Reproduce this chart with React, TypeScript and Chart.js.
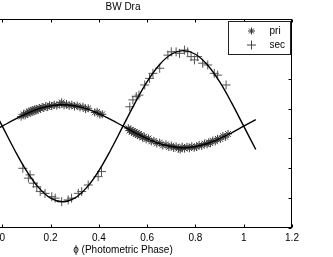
import { useEffect, useRef } from "react";
import { Chart, registerables } from "chart.js";

Chart.register(...registerables);

const TITLE = "BW Dra";
const X_LABEL = "ϕ (Photometric Phase)";
const Y_LABEL = "Radial Velocity (km/s)";
const SERIES_NAMES = ["pri", "sec"];
const X_TICKS = [-0.2, 0, 0.2, 0.4, 0.6, 0.8, 1, 1.2];
const Y_TICKS = [-400, -300, -200, -100, 0, 100, 200, 300];

const PRI_PHASE = [
  0.078, 0.088, 0.095, 0.102, 0.106, 0.111, 0.115, 0.119, 0.123, 0.127, 0.131, 0.135, 0.139, 0.143,
  0.148, 0.153, 0.158, 0.165, 0.172, 0.18, 0.188, 0.196, 0.205, 0.215, 0.226, 0.238, 0.246, 0.256,
  0.266, 0.277, 0.288, 0.299, 0.31, 0.322, 0.334, 0.345, 0.356, 0.383, 0.393, 0.404, 0.414,
  0.522, 0.527, 0.532, 0.536, 0.541, 0.545, 0.549, 0.553, 0.557, 0.561, 0.566, 0.57, 0.575, 0.581,
  0.588, 0.596, 0.606, 0.617, 0.628, 0.64, 0.652, 0.665, 0.678, 0.69, 0.7, 0.71, 0.72, 0.73, 0.737,
  0.745, 0.755, 0.765, 0.775, 0.785, 0.795, 0.805, 0.815, 0.826, 0.838, 0.848, 0.855, 0.862, 0.872,
  0.882, 0.892, 0.903, 0.914, 0.924, 0.935,
];
const PRI_RV = [
  -27, -19, -22, -13, -17, -10, -14, -7, -11, -5, -9, -2, -7, -1,
  -4, 2, -1, 5, 2, 8, 5, 11, 8, 13, 10, 14, 21, 11,
  15, 9, 13, 7, 10, 4, 6, -2, 1, -13, -11, -20, -19,
  -66, -74, -71, -78, -75, -82, -78, -85, -82, -89, -85, -92, -89, -97,
  -94, -103, -100, -110, -108, -117, -114, -124, -120, -129, -124, -132, -127, -134, -137,
  -128, -134, -128, -133, -126, -131, -129, -122, -125, -117, -120, -113, -116, -107,
  -110, -101, -102, -92, -95, -85,
];

const SEC_PHASE = [
  0.085, 0.108, 0.115, 0.129, 0.143, 0.157, 0.177, 0.205, 0.219, 0.246, 0.273, 0.287, 0.315, 0.329,
  0.356, 0.397, 0.411,
  0.528, 0.541, 0.555, 0.566, 0.59, 0.61, 0.624, 0.652, 0.686, 0.7, 0.72, 0.734, 0.755, 0.768,
  0.782, 0.796, 0.809, 0.83, 0.851, 0.878, 0.892, 0.927,
];
const SEC_RV = [
  -200, -233, -222, -250, -262, -278, -284, -295, -300, -312, -306, -300, -284, -278,
  -256, -228, -211,
  6, 29, 40, 45, 79, 101, 118, 135, 179, 190, 190, 185, 196, 190,
  174, 163, 174, 152, 146, 118, 112, 79,
];

const FIT_PHASE = [
  -0.05, 0, 0.05, 0.1, 0.15, 0.2, 0.25, 0.3, 0.35, 0.4, 0.45, 0.5,
  0.55, 0.6, 0.65, 0.7, 0.75, 0.8, 0.85, 0.9, 0.95, 1, 1.05,
];
const PRI_FIT = [
  -81, -59, -37, -17, -1, 9, 13, 9, -1, -17, -37, -59,
  -81, -101, -117, -127, -131, -127, -117, -101, -81, -59, -37,
];
const SEC_FIT = [
  19, -59, -137, -208, -264, -300, -312, -300, -264, -208, -137, -59,
  19, 90, 146, 182, 194, 182, 146, 90, 19, -59, -137,
];

const FONT = '"Liberation Sans", Arial, Helvetica, sans-serif';
const OFFSET_LEFT = 100;
const CANVAS_W = 333 + OFFSET_LEFT;
const CANVAS_H = 257;

const zip = (xs: number[], ys: number[]) => xs.map((x, i) => ({ x, y: ys[i] }));

const boxPlugin = {
  id: "matlabBox",
  afterDatasetsDraw(chart: any) {
    const { ctx, chartArea: a, scales } = chart;
    ctx.save();
    ctx.strokeStyle = "#000";
    ctx.lineWidth = 1;
    const l = Math.round(a.left) + 0.5;
    const t = Math.round(a.top) + 0.5;
    const r = Math.round(a.right) - 0.5;
    const b = Math.round(a.bottom) - 0.5;
    ctx.strokeRect(l, t, r - l, b - t);
    const L = 3;
    ctx.beginPath();
    for (const v of X_TICKS) {
      const px = Math.round(scales.x.getPixelForValue(v)) + 0.5;
      ctx.moveTo(px, b);
      ctx.lineTo(px, b - L);
      ctx.moveTo(px, t);
      ctx.lineTo(px, t + L);
    }
    for (const v of Y_TICKS) {
      const py = Math.round(scales.y.getPixelForValue(v)) + 0.5;
      ctx.moveTo(l, py);
      ctx.lineTo(l + L, py);
      ctx.moveTo(r, py);
      ctx.lineTo(r - L, py);
    }
    ctx.stroke();
    ctx.restore();
  },
};

function drawMarker(ctx: CanvasRenderingContext2D, style: string, r: number, x: number, y: number) {
  ctx.beginPath();
  ctx.moveTo(x - r, y);
  ctx.lineTo(x + r, y);
  ctx.moveTo(x, y - r);
  ctx.lineTo(x, y + r);
  if (style === "star") {
    const d = r * Math.SQRT1_2;
    ctx.moveTo(x - d, y - d);
    ctx.lineTo(x + d, y + d);
    ctx.moveTo(x - d, y + d);
    ctx.lineTo(x + d, y - d);
  }
  ctx.stroke();
}

const legendPlugin = {
  id: "boxLegend",
  afterDraw(chart: any) {
    const { ctx, chartArea: a } = chart;
    const right = Math.round(a.right) - 1.5;
    const top = Math.round(a.top) + 2.5;
    const w = 62;
    const h = 33;
    ctx.save();
    ctx.fillStyle = "#fff";
    ctx.fillRect(right - w, top, w, h);
    ctx.strokeStyle = "#222";
    ctx.lineWidth = 1;
    ctx.strokeRect(right - w, top, w, h);
    ctx.font = `10px ${FONT}`;
    ctx.textBaseline = "middle";
    ctx.textAlign = "left";
    ctx.fillStyle = "#000";
    const styles = ["star", "cross"];
    const radii = [3.5, 4.5];
    const colors = ["#333", "#444"];
    SERIES_NAMES.forEach((name, i) => {
      const cy = top + 9.5 + i * 14;
      ctx.strokeStyle = colors[i];
      ctx.lineWidth = 1;
      drawMarker(ctx, styles[i], radii[i], right - 39, cy);
      ctx.fillText(name, right - 21, cy + 0.5);
    });
    ctx.restore();
  },
};

export default function App() {
  const ref = useRef<HTMLCanvasElement | null>(null);

  useEffect(() => {
    if (!ref.current) return;
    Chart.defaults.font.family = FONT;
    Chart.defaults.font.size = 10;
    Chart.defaults.color = "#000";
    const chart = new Chart(ref.current, {
      type: "scatter",
      data: {
        datasets: [
          {
            label: "pri fit",
            data: zip(FIT_PHASE, PRI_FIT),
            showLine: true,
            borderColor: "#000",
            borderWidth: 1.4,
            pointRadius: 0,
            tension: 0.4,
            order: 0,
          } as any,
          {
            label: "sec fit",
            data: zip(FIT_PHASE, SEC_FIT),
            showLine: true,
            borderColor: "#000",
            borderWidth: 1.4,
            pointRadius: 0,
            tension: 0.4,
            order: 0,
          },
          {
            label: SERIES_NAMES[0],
            data: zip(PRI_PHASE, PRI_RV),
            pointStyle: "star",
            pointRadius: 4,
            borderColor: "#3a3a3a",
            backgroundColor: "#3a3a3a",
            pointBorderWidth: 1,
            order: 1,
          },
          {
            label: SERIES_NAMES[1],
            data: zip(SEC_PHASE, SEC_RV),
            pointStyle: "cross",
            pointRadius: 4.5,
            borderColor: "#555",
            backgroundColor: "#555",
            pointBorderWidth: 1,
            order: 1,
          },
        ],
      },
      options: {
        animation: false,
        responsive: false,
        maintainAspectRatio: false,
        layout: { padding: { left: 0, right: 41, top: 0, bottom: 0 } },
        plugins: {
          legend: { display: false },
          tooltip: { enabled: false },
          title: {
            display: true,
            text: TITLE,
            color: "#000",
            fullSize: false,
            font: { size: 10, weight: "normal", family: FONT },
            padding: { top: 1, bottom: 6 },
          },
        },
        scales: {
          x: {
            type: "linear",
            min: -0.2,
            max: 1.2,
            afterBuildTicks: (s: any) => {
              s.ticks = X_TICKS.map((v) => ({ value: v }));
            },
            afterFit: (s: any) => {
              s.height = 29;
            },
            grid: { display: false, drawTicks: false, tickLength: 0 },
            border: { display: false },
            ticks: {
              padding: 4,
              color: "#000",
              font: { size: 10, family: FONT },
              maxRotation: 0,
              callback: (v: any) => String(Number(Number(v).toFixed(1))),
            },
            title: {
              display: true,
              text: X_LABEL,
              color: "#000",
              font: { size: 10, family: FONT },
              padding: { top: 0, bottom: 1 },
            },
          },
          y: {
            type: "linear",
            min: -400,
            max: 300,
            afterBuildTicks: (s: any) => {
              s.ticks = Y_TICKS.map((v) => ({ value: v }));
            },
            afterFit: (s: any) => {
              s.width = 54;
            },
            grid: { display: false, drawTicks: false, tickLength: 0 },
            border: { display: false },
            ticks: { padding: 4, color: "#000", font: { size: 10, family: FONT } },
            title: {
              display: true,
              text: Y_LABEL,
              color: "#000",
              font: { size: 10, family: FONT },
            },
          },
        },
      },
      plugins: [boxPlugin, legendPlugin],
    });
    return () => chart.destroy();
  }, []);

  return (
    <div
      style={{
        position: "fixed",
        left: -OFFSET_LEFT,
        top: 0,
        width: CANVAS_W,
        height: CANVAS_H,
        background: "#fff",
      }}
    >
      <canvas ref={ref} width={CANVAS_W} height={CANVAS_H} style={{ display: "block" }} />
    </div>
  );
}
